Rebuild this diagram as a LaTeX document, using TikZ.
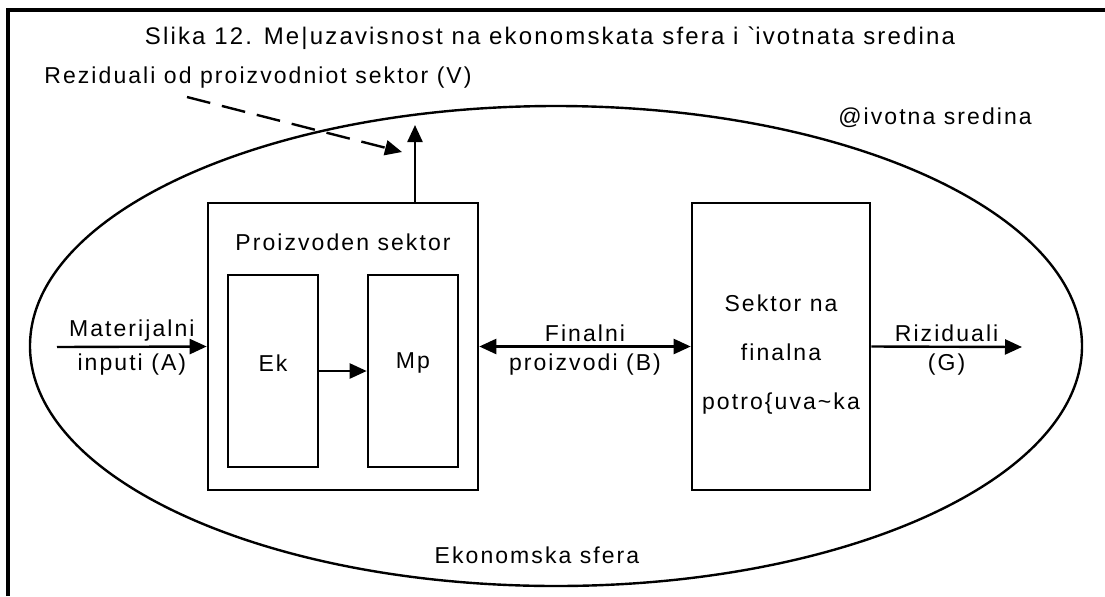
\documentclass[tikz,border=0pt]{standalone}
\usepackage{fontspec}
\setmainfont{Liberation Sans}[LetterSpace=9]
\usetikzlibrary{arrows.meta,shapes.geometric}

\begin{document}
\begin{tikzpicture}[x=0.5pt,y=-0.5pt,
  sector/.style={draw,line width=1.3pt,inner sep=0pt},
  flow/.style={line width=1.2pt,-{Triangle[length=8.5pt,width=7.5pt]}},
  lbl/.style={font=\fontsize{11.5}{13}\selectfont,inner sep=1pt}]

  \useasboundingbox (0,0) rectangle (1105,596);
  \draw[line width=2pt] (8,596) -- (8,10) -- (1105,10);

  \node[draw,ellipse,line width=1.2pt,inner sep=0pt,
        minimum width=526pt,minimum height=240pt] (eco) at (556,346) {};

  \node[sector,minimum width=135pt,minimum height=143.5pt] (prod) at (343,346.5) {};
  \node[sector,minimum width=45pt,minimum height=96pt] (ek) at (273,371) {};
  \node[sector,minimum width=45pt,minimum height=96pt] (mp) at (413,371) {};
  \node[sector,minimum width=89pt,minimum height=143.5pt] (cons) at (781,346.5) {};

  \node[lbl,font=\fontsize{12}{14}\selectfont] (title) at (550,38)
    {Slika 12. Me|uzavisnost na ekonomskata sfera i \textasciigrave ivotnata sredina};
  \node[lbl,anchor=west] (resV) at (42,78) {Reziduali od proizvodniot sektor (V)};
  \node[lbl] (env) at (935,118) {@ivotna sredina};
  \node[lbl] (ecolbl) at (537,555) {Ekonomska sfera};
  \node[lbl] (prodlbl) at (343,242) {Proizvoden sektor};
  \node[lbl] (eklbl) at (273,363) {Ek};
  \node[lbl] (mplbl) at (413,363) {Mp};
  \node[lbl,align=center,font=\fontsize{11.5}{24.5}\selectfont] (conslbl) at (781,354.5)
    {Sektor na\\finalna\\potro\{uva\textasciitilde ka};

  % tokovi
  \coordinate (inA) at (57,347);
  \coordinate (outG) at (1022,347);
  \coordinate (vtip) at (415,125);
  \coordinate (vstart) at (187,97);
  \coordinate (vend) at (402,152);

  \draw[flow] (inA) -- node[lbl,above=1pt]{Materijalni} node[lbl,below=2pt]{inputi (A)} (prod.west);
  \draw[flow] (ek.east) -- (mp.west);
  \draw[flow,{Triangle[length=8.5pt,width=7.5pt]}-{Triangle[length=8.5pt,width=7.5pt]}]
    (prod.east) -- node[lbl,above=1pt]{Finalni} node[lbl,below=2pt]{proizvodi (B)} (cons.west);
  \draw[flow] (cons.east) -- node[lbl,above=1pt]{Riziduali} node[lbl,below=2pt]{(G)} (outG);
  \draw[flow] (prod.north -| vtip) -- (vtip);
  \draw[flow,dash pattern=on 12pt off 6pt] (vstart) -- (vend);
\end{tikzpicture}
\end{document}
